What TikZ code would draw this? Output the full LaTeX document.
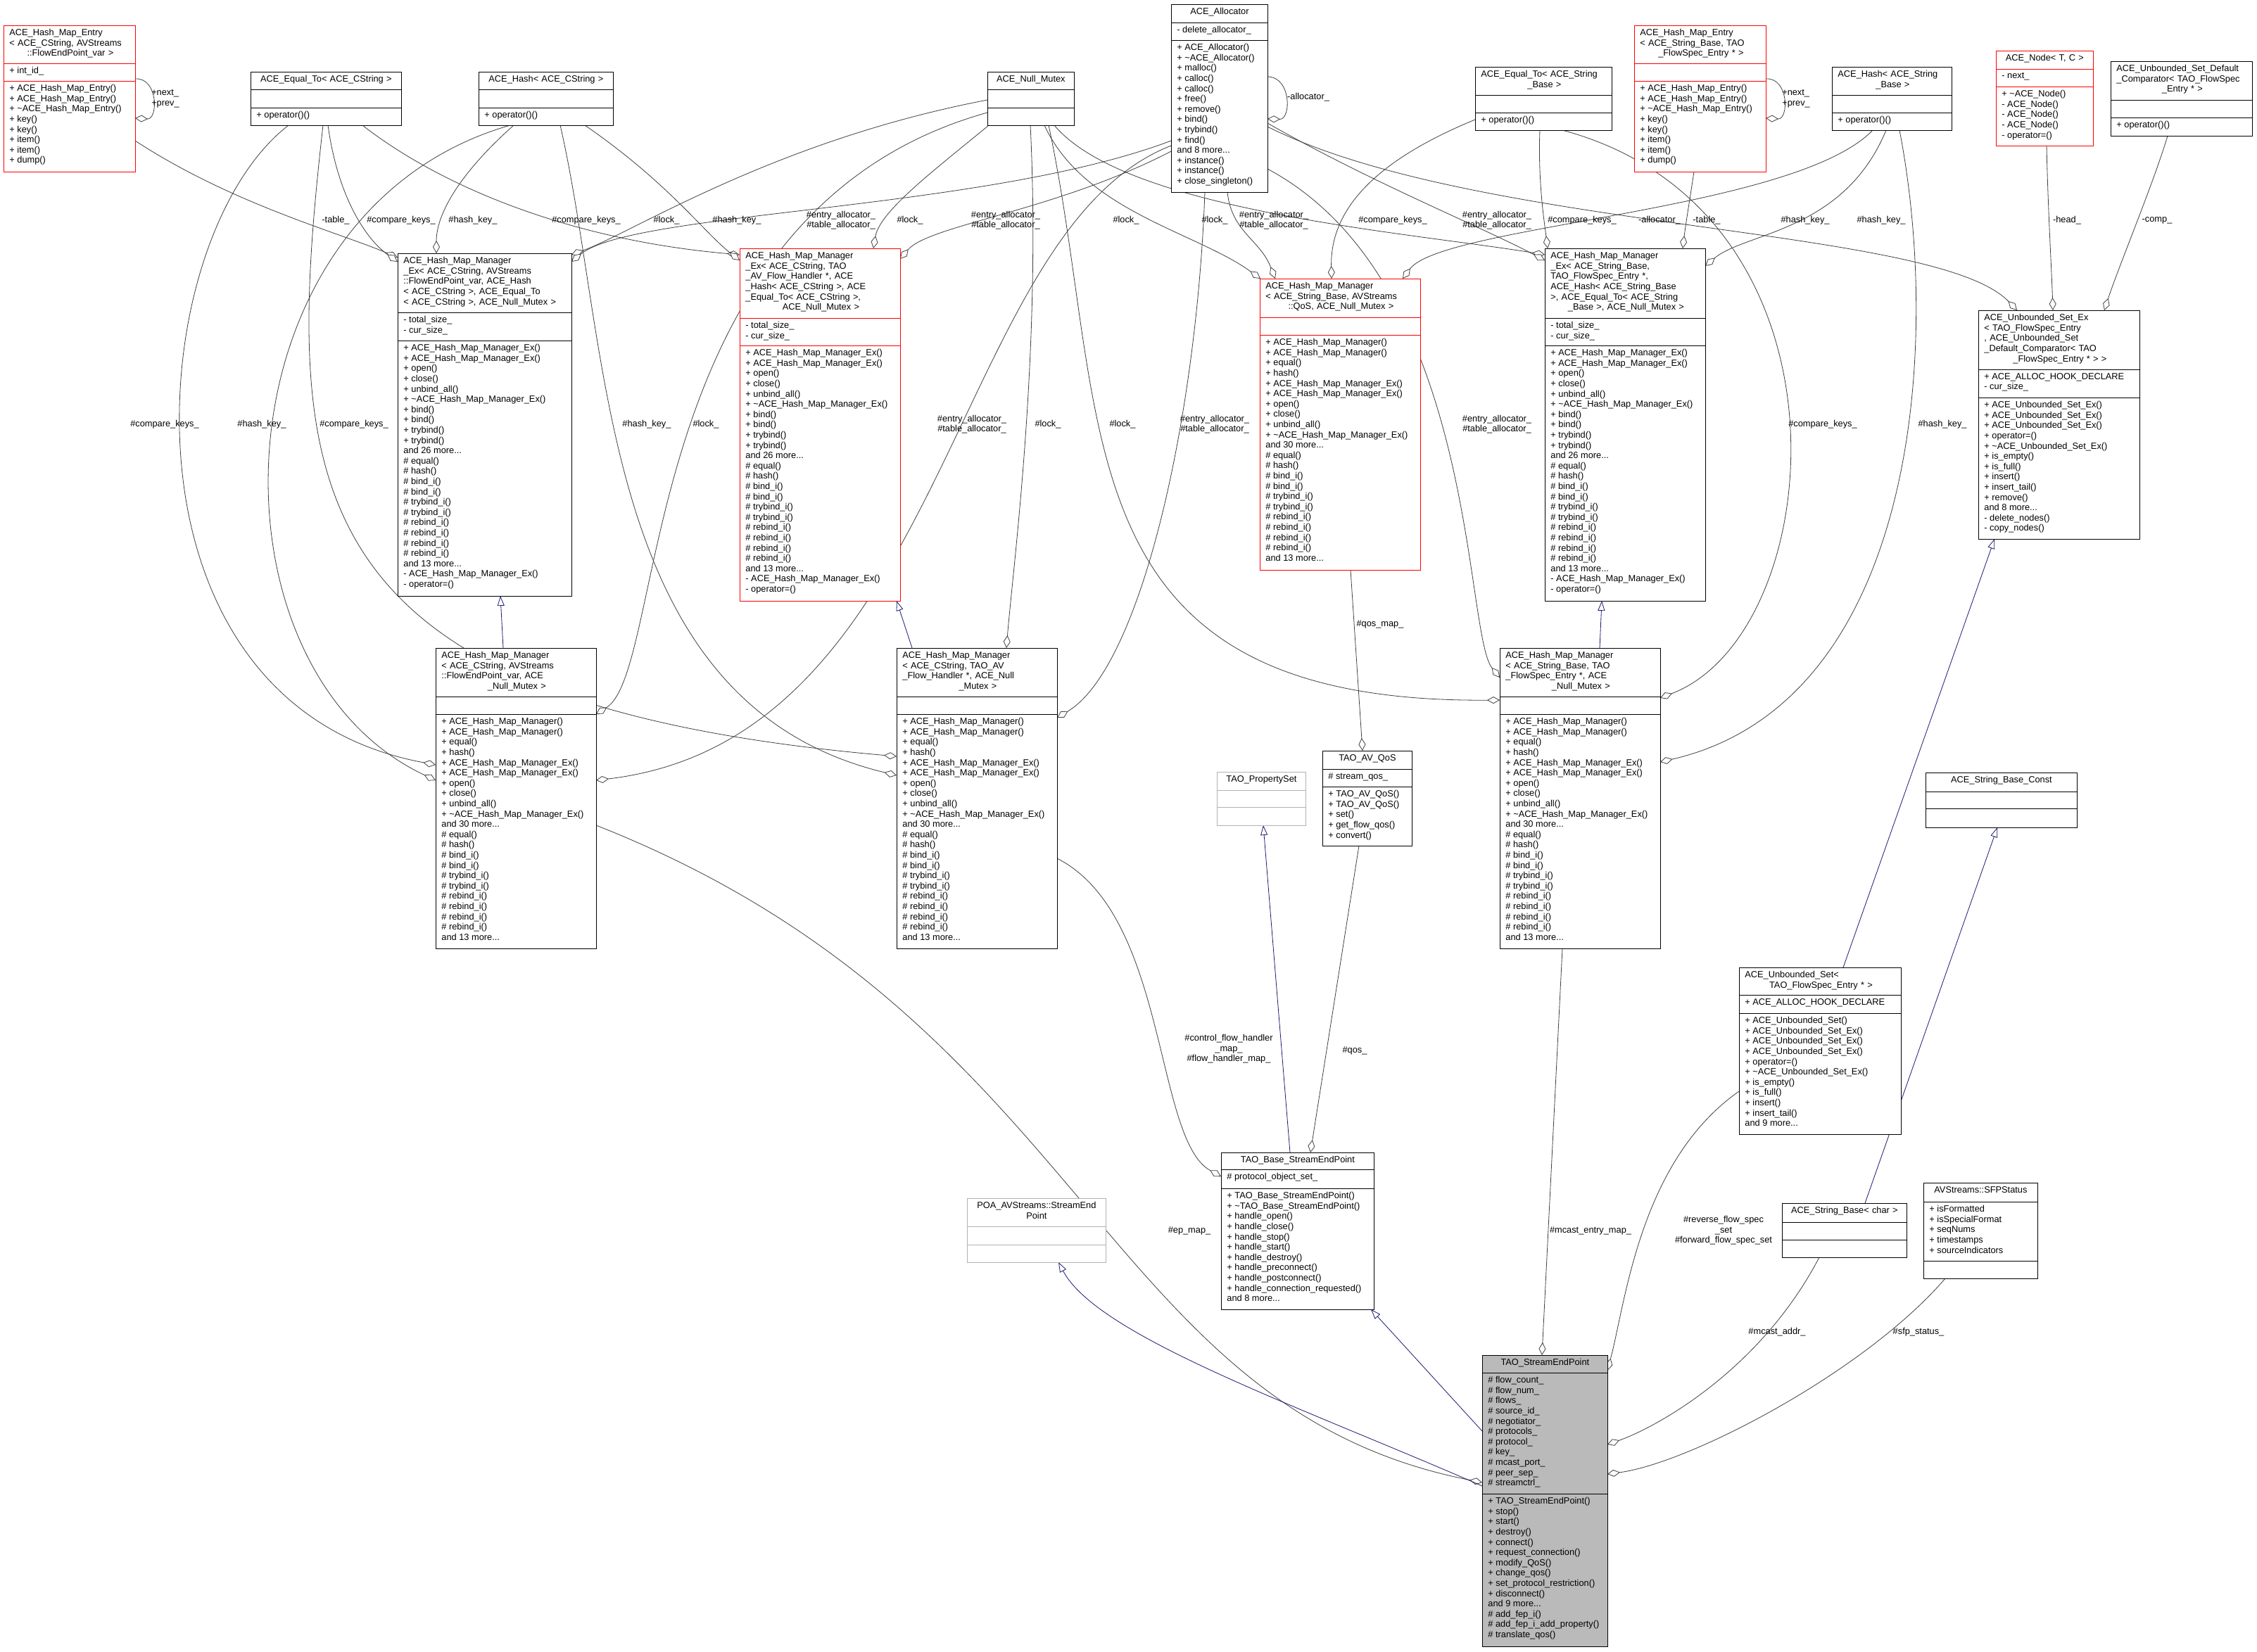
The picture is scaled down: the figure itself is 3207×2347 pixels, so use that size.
\documentclass[tikz,border=0pt]{standalone}
\usepackage{fontspec}
\setmainfont{Liberation Sans}
\usetikzlibrary{arrows.meta,backgrounds}
\definecolor{midblue}{RGB}{25,25,112}
\newcommand\mk[1]{\makebox[\linewidth]{#1}}
\tikzset{
    %Define style for class boxes
    box/.style={draw=black, fill=white, inner sep=0pt, outer sep=0pt, line width=0.5pt},
    redbox/.style={box, draw=red},
    greybox/.style={box, draw=black!30},
    sepbox/.style={box, fill=black!27},
    %Define style for member texts
    mem/.style={inner sep=0pt, anchor=north west, font=\fontsize{6.4}{7.3}\selectfont},
    lbl/.style={inner sep=0pt, align=center, font=\fontsize{6.4}{7.3}\selectfont},
    % Define arrow styles
    use/.style={draw=black!75, line width=0.4pt, -{Diamond[open,fill=white,length=9pt,width=5pt]}},
    inh/.style={draw=midblue, line width=0.4pt, -{Triangle[open,fill=white,length=7pt,width=5pt]}}
}
% name, style, x1, y1, x2, y2, divider 1, divider 2
\newcommand\cls[8]{%
  \node[#2, minimum width={(#5-#3)*0.5pt}, minimum height={(#6-#4)*0.5pt}, anchor=north west] (#1) at (#3,#4) {};
  \draw[#2, fill=none] (#3,#7) -- (#5,#7) (#3,#8) -- (#5,#8);
  \def\cx{#3}\def\cw{#5-#3}\def\ct{#4}\def\cda{#7}\def\cdb{#8}}
\newcommand\ctitle[1]{\node[mem, text width={(\cw-14)*0.5pt}, align=left] at ({\cx+8},{\ct+5}) {#1};}
\newcommand\ctitlec[1]{\node[mem, text width={(\cw-14)*0.5pt}, align=center] at ({\cx+7},{\ct+5}) {#1};}
\newcommand\cattr[1]{\node[mem, align=left] at ({\cx+8},{\cda+5}) {#1};}
\newcommand\cmeth[1]{\node[mem, align=left] at ({\cx+8},{\cdb+5}) {#1};}
\begin{document}
\catcode`\_=12
\newcommand\tl{\textasciitilde}
\newcommand\exmeth{+ ACE_Hash_Map_Manager_Ex()\\+ ACE_Hash_Map_Manager_Ex()\\+ open()\\+ close()\\+ unbind_all()\\+ \tl ACE_Hash_Map_Manager_Ex()\\+ bind()\\+ bind()\\+ trybind()\\+ trybind()\\and 26 more...\\\# equal()\\\# hash()\\\# bind_i()\\\# bind_i()\\\# trybind_i()\\\# trybind_i()\\\# rebind_i()\\\# rebind_i()\\\# rebind_i()\\\# rebind_i()\\and 13 more...\\- ACE_Hash_Map_Manager_Ex()\\- operator=()}
\newcommand\hmmeth{+ ACE_Hash_Map_Manager()\\+ ACE_Hash_Map_Manager()\\+ equal()\\+ hash()\\+ ACE_Hash_Map_Manager_Ex()\\+ ACE_Hash_Map_Manager_Ex()\\+ open()\\+ close()\\+ unbind_all()\\+ \tl ACE_Hash_Map_Manager_Ex()\\and 30 more...\\\# equal()\\\# hash()\\\# bind_i()\\\# bind_i()\\\# trybind_i()\\\# trybind_i()\\\# rebind_i()\\\# rebind_i()\\\# rebind_i()\\\# rebind_i()\\and 13 more...}
\newcommand\entmeth{+ ACE_Hash_Map_Entry()\\+ ACE_Hash_Map_Entry()\\+ \tl ACE_Hash_Map_Entry()\\+ key()\\+ key()\\+ item()\\+ item()\\+ dump()}
\newcommand\entry{\#entry_allocator_\\\#table_allocator_}
\begin{tikzpicture}[x=0.5pt, y=-0.5pt]
\useasboundingbox (0,0) rectangle (3207,2347);

%classes
\cls{hme}{redbox}{5}{36}{192}{244}{90}{115}
\ctitle{ACE_Hash_Map_Entry\\< ACE_CString, AVStreams\\\mk{::FlowEndPoint_var >}}
\cattr{+ int_id_}
\cmeth{\entmeth}

\cls{eqc}{box}{356}{102}{570}{178}{127}{153}
\ctitlec{ACE_Equal_To< ACE_CString >}
\cmeth{+ operator()()}

\cls{hashc}{box}{680}{102}{871}{178}{127}{153}
\ctitlec{ACE_Hash< ACE_CString >}
\cmeth{+ operator()()}

\cls{hmmexc}{box}{565}{360}{812}{847}{444}{484}
\ctitle{ACE_Hash_Map_Manager\\_Ex< ACE_CString, AVStreams\\::FlowEndPoint_var, ACE_Hash\\< ACE_CString >, ACE_Equal_To\\< ACE_CString >, ACE_Null_Mutex >}
\cattr{- total_size_\\- cur_size_}
\cmeth{\exmeth}

\cls{hmmextao}{redbox}{1051}{353}{1279}{854}{452}{491}
\ctitle{ACE_Hash_Map_Manager\\_Ex< ACE_CString, TAO\\_AV_Flow_Handler *, ACE\\_Hash< ACE_CString >, ACE\\_Equal_To< ACE_CString >,\\\mk{ACE_Null_Mutex >}}
\cattr{- total_size_\\- cur_size_}
\cmeth{\exmeth}

\cls{mutex}{box}{1403}{102}{1526}{178}{127}{153}
\ctitlec{ACE_Null_Mutex}

\cls{alloc}{box}{1664}{6}{1801}{273}{32}{57}
\ctitlec{ACE_Allocator}
\cattr{- delete_allocator_}
\cmeth{+ ACE_Allocator()\\+ \tl ACE_Allocator()\\+ malloc()\\+ calloc()\\+ calloc()\\+ free()\\+ remove()\\+ bind()\\+ trybind()\\+ find()\\and 8 more...\\+ instance()\\+ instance()\\+ close_singleton()}

\cls{hmmqos}{redbox}{1790}{396}{2018}{810}{451}{476}
\ctitle{ACE_Hash_Map_Manager\\< ACE_String_Base, AVStreams\\\mk{::QoS, ACE_Null_Mutex >}}
\cmeth{\hmmeth}

\cls{eqsb}{box}{2096}{95}{2290}{185}{135}{160}
\ctitle{ACE_Equal_To< ACE_String\\\mk{_Base >}}
\cmeth{+ operator()()}

\cls{hme2}{redbox}{2322}{36}{2509}{244}{90}{115}
\ctitle{ACE_Hash_Map_Entry\\< ACE_String_Base, TAO\\\mk{_FlowSpec_Entry * >}}
\cmeth{\entmeth}

\cls{hashsb}{box}{2603}{95}{2773}{185}{135}{160}
\ctitle{ACE_Hash< ACE_String\\\mk{_Base >}}
\cmeth{+ operator()()}

\cls{acenode}{redbox}{2836}{72}{2974}{207}{98}{123}
\ctitlec{ACE_Node< T, C >}
\cattr{- next_}
\cmeth{+ \tl ACE_Node()\\- ACE_Node()\\- ACE_Node()\\- ACE_Node()\\- operator=()}

\cls{cmp}{box}{2999}{87}{3200}{193}{142}{167}
\ctitle{ACE_Unbounded_Set_Default\\_Comparator< TAO_FlowSpec\\\mk{_Entry * >}}
\cmeth{+ operator()()}

\cls{hmmexsb}{box}{2195}{353}{2423}{854}{452}{491}
\ctitle{ACE_Hash_Map_Manager\\_Ex< ACE_String_Base,\\ TAO_FlowSpec_Entry *,\\ ACE_Hash< ACE_String_Base\\>, ACE_Equal_To< ACE_String\\\mk{_Base >, ACE_Null_Mutex >}}
\cattr{- total_size_\\- cur_size_}
\cmeth{\exmeth}

\cls{usetex}{box}{2811}{441}{3040}{766}{525}{565}
\ctitle{ACE_Unbounded_Set_Ex\\< TAO_FlowSpec_Entry\\ *, ACE_Unbounded_Set\\_Default_Comparator< TAO\\\mk{_FlowSpec_Entry * > >}}
\cattr{+ ACE_ALLOC_HOOK_DECLARE\\- cur_size_}
\cmeth{+ ACE_Unbounded_Set_Ex()\\+ ACE_Unbounded_Set_Ex()\\+ ACE_Unbounded_Set_Ex()\\+ operator=()\\+ \tl ACE_Unbounded_Set_Ex()\\+ is_empty()\\+ is_full()\\+ insert()\\+ insert_tail()\\+ remove()\\and 8 more...\\- delete_nodes()\\- copy_nodes()}

\cls{hmmc}{box}{619}{921}{847}{1348}{990}{1015}
\ctitle{ACE_Hash_Map_Manager\\< ACE_CString, AVStreams\\::FlowEndPoint_var, ACE\\\mk{_Null_Mutex >}}
\cmeth{\hmmeth}

\cls{hmmtao}{box}{1274}{921}{1502}{1348}{990}{1015}
\ctitle{ACE_Hash_Map_Manager\\< ACE_CString, TAO_AV\\_Flow_Handler *, ACE_Null\\\mk{_Mutex >}}
\cmeth{\hmmeth}

\cls{poa}{greybox}{1374}{1703}{1571}{1794}{1743}{1769}
\ctitlec{POA_AVStreams::StreamEnd\\Point}

\cls{propset}{greybox}{1729}{1097}{1855}{1173}{1123}{1147}
\ctitlec{TAO_PropertySet}

\cls{avqos}{box}{1879}{1067}{2006}{1202}{1093}{1118}
\ctitlec{TAO_AV_QoS}
\cattr{\# stream_qos_}
\cmeth{+ TAO_AV_QoS()\\+ TAO_AV_QoS()\\+ set()\\+ get_flow_qos()\\+ convert()}

\cls{hmmsb}{box}{2131}{921}{2359}{1348}{990}{1015}
\ctitle{ACE_Hash_Map_Manager\\< ACE_String_Base, TAO\\_FlowSpec_Entry *, ACE\\\mk{_Null_Mutex >}}
\cmeth{\hmmeth}

\cls{uset}{box}{2471}{1375}{2701}{1612}{1414}{1440}
\ctitle{ACE_Unbounded_Set<\\\mk{TAO_FlowSpec_Entry * >}}
\cattr{+ ACE_ALLOC_HOOK_DECLARE}
\cmeth{+ ACE_Unbounded_Set()\\+ ACE_Unbounded_Set_Ex()\\+ ACE_Unbounded_Set_Ex()\\+ ACE_Unbounded_Set_Ex()\\+ operator=()\\+ \tl ACE_Unbounded_Set_Ex()\\+ is_empty()\\+ is_full()\\+ insert()\\+ insert_tail()\\and 9 more...}

\cls{basesep}{box}{1735}{1638}{1952}{1861}{1662}{1689}
\ctitlec{TAO_Base_StreamEndPoint}
\cattr{\# protocol_object_set_}
\cmeth{+ TAO_Base_StreamEndPoint()\\+ \tl TAO_Base_StreamEndPoint()\\+ handle_open()\\+ handle_close()\\+ handle_stop()\\+ handle_start()\\+ handle_destroy()\\+ handle_preconnect()\\+ handle_postconnect()\\+ handle_connection_requested()\\and 8 more...}

\cls{sbconst}{box}{2736}{1098}{2951}{1176}{1125}{1149}
\ctitlec{ACE_String_Base_Const}

\cls{sbchar}{box}{2532}{1710}{2709}{1787}{1737}{1762}
\ctitlec{ACE_String_Base< char >}

\cls{sfp}{box}{2733}{1681}{2895}{1817}{1708}{1792}
\ctitlec{AVStreams::SFPStatus}
\cattr{+ isFormatted\\+ isSpecialFormat\\+ seqNums\\+ timestamps\\+ sourceIndicators}

\cls{sep}{sepbox}{2106}{1926}{2284}{2340}{1951}{2123}
\ctitlec{TAO_StreamEndPoint}
\cattr{\# flow_count_\\\# flow_num_\\\# flows_\\\# source_id_\\\# negotiator_\\\# protocols_\\\# protocol_\\\# key_\\\# mcast_port_\\\# peer_sep_\\\# streamctrl_}
\cmeth{+ TAO_StreamEndPoint()\\+ stop()\\+ start()\\+ destroy()\\+ connect()\\+ request_connection()\\+ modify_QoS()\\+ change_qos()\\+ set_protocol_restriction()\\+ disconnect()\\and 9 more...\\\# add_fep_i()\\\# add_fep_i_add_property()\\\# translate_qos()}

\begin{scope}[on background layer]
%usage
\draw[use] (hme.east |- 0,200) .. controls (330,290) and (480,330) .. (hmmexc.west |- 0,366);
\draw[use] (eqc.south -| 466,0) .. controls (480,280) and (520,340) .. (hmmexc.west |- 0,372);
\draw[use] (hashc.south -| 730,0) .. controls (660,240) and (620,300) .. (hmmexc.north -| 620,0);
\draw[use] (mutex.west |- 0,142) .. controls (1100,200) and (900,330) .. (hmmexc.east |- 0,362);
\draw[use] (alloc.west |- 0,200) .. controls (1400,300) and (900,300) .. (hmmexc.east |- 0,372);
\draw[use] (eqc.south -| 515,0) .. controls (620,260) and (800,340) .. (hmmextao.west |- 0,362);
\draw[use] (hashc.south -| 831,0) .. controls (950,260) and (1000,330) .. (hmmextao.west |- 0,370);
\draw[use] (mutex.south -| 1405,0) .. controls (1330,240) and (1250,300) .. (hmmextao.north -| 1241,0);
\draw[use] (alloc.west |- 0,215) .. controls (1500,300) and (1320,320) .. (hmmextao.east |- 0,368);
\draw[use] (mutex.south -| 1484,0) .. controls (1540,300) and (1700,330) .. (hmmqos.north -| 1791,0);
\draw[use] (alloc.south -| 1744,0) .. controls (1750,330) and (1790,340) .. (hmmqos.north -| 1812,0);
\draw[use] (eqsb.west |- 0,170) .. controls (1950,230) and (1890,300) .. (hmmqos.north -| 1892,0);
\draw[use] (hashsb.south -| 2661,0) .. controls (2550,300) and (2050,320) .. (hmmqos.north -| 1993,0);
\draw[use] (mutex.south -| 1498,0) .. controls (1600,300) and (2000,330) .. (hmmexsb.west |- 0,362);
\draw[use] (alloc.east |- 0,175) .. controls (1950,260) and (2100,320) .. (hmmexsb.west |- 0,370);
\draw[use] (eqsb.south -| 2188,0) .. controls (2185,260) and (2195,320) .. (hmmexsb.north -| 2199,0);
\draw[use] (hme2.south -| 2407,0) .. controls (2400,290) and (2395,320) .. (hmmexsb.north -| 2391,0);
\draw[use] (hashsb.south -| 2680,0) .. controls (2620,330) and (2480,330) .. (hmmexsb.east |- 0,378);
\draw[use] (alloc.east |- 0,180) .. controls (2100,330) and (2750,320) .. (usetex.north -| 2866,0);
\draw[use] (acenode.south -| 2908,0) .. controls (2910,300) and (2915,380) .. (usetex.north -| 2917,0);
\draw[use] (cmp.south -| 3080,0) .. controls (3060,260) and (3010,380) .. (usetex.north -| 2990,0);
\draw[use] (eqc.south -| 410,0) .. controls (200,340) and (150,1000) .. (hmmc.west |- 0,1087);
\draw[use] (hashc.south -| 725,0) .. controls (300,300) and (280,950) .. (hmmc.west |- 0,1109);
\draw[use] (mutex.west |- 0,160) .. controls (900,300) and (950,950) .. (hmmc.east |- 0,1015);
\draw[use] (alloc.west |- 0,207) .. controls (1350,330) and (1350,1050) .. (hmmc.east |- 0,1109);
\draw[use] (eqc.south -| 459,0) .. controls (400,700) and (420,1000) .. (hmmtao.west |- 0,1075);
\draw[use] (hashc.south -| 796,0) .. controls (870,500) and (850,1000) .. (hmmtao.west |- 0,1102);
\draw[use] (mutex.south -| 1464,0) .. controls (1480,500) and (1440,800) .. (hmmtao.north -| 1430,0);
\draw[use] (alloc.south -| 1712,0) .. controls (1700,600) and (1620,950) .. (hmmtao.east |- 0,1020);
\draw[use] (mutex.south -| 1490,0) .. controls (1580,600) and (1500,1000) .. (hmmsb.west |- 0,995);
\draw[use] (alloc.east |- 0,240) .. controls (2100,400) and (2080,900) .. (hmmsb.west |- 0,963);
\draw[use] (eqsb.south -| 2220,0) .. controls (2650,300) and (2600,900) .. (hmmsb.east |- 0,992);
\draw[use] (hashsb.south -| 2699,0) .. controls (2760,500) and (2720,1000) .. (hmmsb.east |- 0,1083);
\draw[use] (hmmqos.south -| 1919,0) -- (avqos.north -| 1936,0);
\draw[use] (hmmtao.east |- 0,1220) .. controls (1660,1300) and (1640,1620) .. (basesep.west |- 0,1672);
\draw[use] (avqos.south -| 1931,0) -- (basesep.north -| 1862,0);
\draw[use] (hmmc.east |- 0,1173) .. controls (1550,1450) and (1560,2000) .. (sep.west |- 0,2107);
\draw[use] (hmmsb.south -| 2220,0) -- (sep.north -| 2191,0);
\draw[use] (uset.west |- 0,1551) .. controls (2330,1650) and (2310,1850) .. (sep.east |- 0,1948);
\draw[use] (sbchar.south -| 2585,0) .. controls (2500,1950) and (2350,2030) .. (sep.east |- 0,2053);
\draw[use] (sfp.south -| 2764,0) .. controls (2650,1950) and (2400,2080) .. (sep.east |- 0,2095);
\draw[use] (hme.east |- 0,112) .. controls (225,110) and (225,170) .. (hme.east |- 0,168);
\draw[use] (hme2.east |- 0,112) .. controls (2542,110) and (2542,170) .. (hme2.east |- 0,168);
\draw[use] (alloc.east |- 0,109) .. controls (1835,109) and (1835,170) .. (alloc.east |- 0,169);

%inheritance
\draw[inh] (hmmc.north -| 715,0) -- (hmmexc.south -| 711,0);
\draw[inh] (hmmtao.north -| 1296,0) -- (hmmextao.south -| 1274,0);
\draw[inh] (hmmsb.north -| 2273,0) -- (hmmexsb.south -| 2276,0);
\draw[inh] (uset.north -| 2619,0) -- (usetex.south -| 2834,0);
\draw[inh] (basesep.north -| 1833,0) -- (propset.south -| 1795,0);
\draw[inh] (sep.west |- 0,2034) -- (basesep.south -| 1948,0);
\draw[inh] (sep.west |- 0,2112) .. controls (1850,2000) and (1560,1900) .. (poa.south -| 1504,0);
\draw[inh] (sbchar.north -| 2650,0) -- (sbconst.south -| 2838,0);
\end{scope}

%labels
\node[lbl] at (477,313) {-table_};
\node[lbl] at (570,313) {\#compare_keys_};
\node[lbl] at (672,313) {\#hash_key_};
\node[lbl] at (833,313) {\#compare_keys_};
\node[lbl] at (947,313) {\#lock_};
\node[lbl] at (1047,313) {\#hash_key_};
\node[lbl] at (1195,313) {\entry};
\node[lbl] at (1293,313) {\#lock_};
\node[lbl] at (1429,313) {\entry};
\node[lbl] at (1600,313) {\#lock_};
\node[lbl] at (1726,313) {\#lock_};
\node[lbl] at (1810,313) {\entry};
\node[lbl] at (1979,313) {\#compare_keys_};
\node[lbl] at (2127,313) {\entry};
\node[lbl] at (2248,313) {\#compare_keys_};
\node[lbl] at (2358,313) {-allocator_};
\node[lbl] at (2425,313) {-table_};
\node[lbl] at (2565,313) {\#hash_key_};
\node[lbl] at (2673,313) {\#hash_key_};
\node[lbl] at (2937,313) {-head_};
\node[lbl] at (3065,313) {-comp_};
\node[lbl] at (234,603) {\#compare_keys_};
\node[lbl] at (372,603) {\#hash_key_};
\node[lbl] at (503,603) {\#compare_keys_};
\node[lbl] at (919,603) {\#hash_key_};
\node[lbl] at (1003,603) {\#lock_};
\node[lbl] at (1381,603) {\entry};
\node[lbl] at (1489,603) {\#lock_};
\node[lbl] at (1595,603) {\#lock_};
\node[lbl] at (1726,603) {\entry};
\node[lbl] at (2127,603) {\entry};
\node[lbl] at (2590,603) {\#compare_keys_};
\node[lbl] at (2760,603) {\#hash_key_};
\node[lbl, align=left] at (235,140) {+next_\\+prev_};
\node[lbl, align=left] at (2552,140) {+next_\\+prev_};
\node[lbl] at (1859,138) {-allocator_};
\node[lbl] at (1961,887) {\#qos_map_};
\node[lbl] at (1746,1491) {\#control_flow_handler\\_map_\\\#flow_handler_map_};
\node[lbl] at (1925,1493) {\#qos_};
\node[lbl] at (1690,1749) {\#ep_map_};
\node[lbl] at (2260,1749) {\#mcast_entry_map_};
\node[lbl] at (2449,1749) {\#reverse_flow_spec\\_set\\\#forward_flow_spec_set};
\node[lbl] at (2525,1893) {\#mcast_addr_};
\node[lbl] at (2726,1893) {\#sfp_status_};
\end{tikzpicture}
\end{document}
